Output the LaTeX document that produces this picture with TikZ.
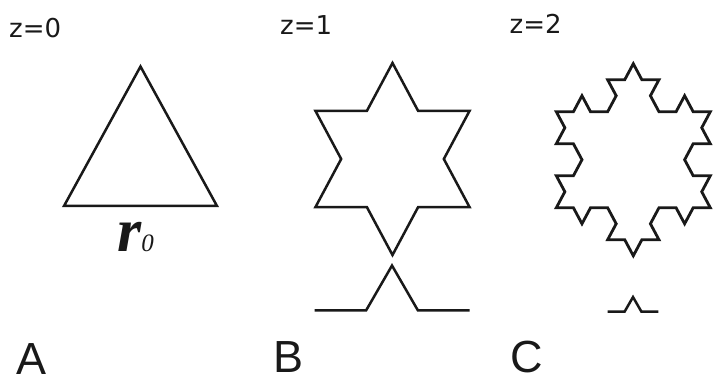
\documentclass[tikz,border=0pt]{standalone}
\usepackage{fontspec}
\setmainfont{Liberation Sans}
\newfontfamily\zfont{DejaVu Sans}
\newfontfamily\rfont{Liberation Serif}
\begin{document}
\begin{tikzpicture}[x=1pt,y=1pt,
  lbl/.style={inner sep=0pt, anchor=base west, text=black!90, font=\zfont\fontsize{26}{26}\selectfont},
  letter/.style={inner sep=0pt, anchor=base west, text=black!90, font=\fontsize{45}{45}\selectfont},
  fig/.style={draw=black!90, line width=2.5pt, line join=miter}]
\useasboundingbox (0,0) rectangle (715,387);

% labels
\node[lbl] (z0) at (9,349) {z=0};
\node[lbl] (z1) at (280,352.5) {z=1};
\node[lbl] (z2) at (509.5,353.5) {z=2};
\node[letter] (la) at (16,12) {A};
\node[letter] (lb) at (273.5,14.3) {B};
\node[letter] (lc) at (510.5,14.5) {C};
\node[inner sep=0pt, anchor=base west, text=black!90] (r0) at (117,135)
  {\rfont\fontsize{62}{62}\selectfont\bfseries\itshape r\fontsize{25}{25}\selectfont\mdseries 0};

% A: triangle
\draw[fig] (64,181) -- (217,181) -- (140.5,320.5) -- cycle;

% B: Koch star, order 1
\begin{scope}[shift={(392.5,228)}, yscale=1.08]
\draw[fig] (0,88.9)
  \foreach \D in {-60,180}{ -- ++(\D:51.33) -- ++(\D+60:51.33) -- ++(\D-60:51.33) -- ++(\D:51.33) }
  -- ++(60:51.33) -- ++(120:51.33) -- ++(0:51.33) -- cycle;
\end{scope}
\draw[fig] (314.5,76.7) -- ++(0:51.67) -- ++(60:51.67) -- ++(-60:51.67) -- ++(0:51.67);

% C: Koch snowflake, order 2
\begin{scope}[shift={(633.3,227.25)}, yscale=1.08]
\draw[fig, line width=2.8pt] (0,88.9)
  \foreach \D in {-60,180}{
    \foreach \o in {0,60,-60,0,60,120,0,60,-60,0,-120,-60,0,60,-60,0}{ -- ++(\D+\o:17.11) } }
  \foreach \o in {0,60,-60,0,60,120,0,60,-60,0,-120,-60,0,60,-60}{ -- ++(60+\o:17.11) }
  -- cycle;
\end{scope}
\draw[fig] (607.7,75.3) -- ++(0:16.87) -- ++(60:16.87) -- ++(-60:16.87) -- ++(0:16.87);
\end{tikzpicture}
\end{document}
